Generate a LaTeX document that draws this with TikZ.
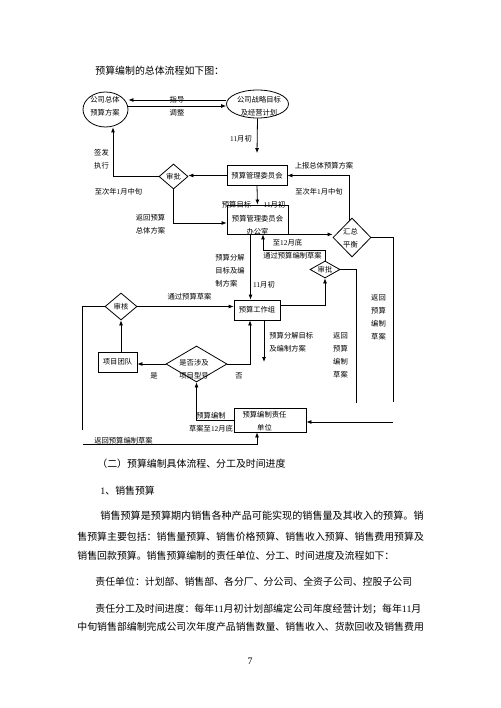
\documentclass[tikz,border=0pt]{standalone}
\usepackage{fontspec}
\setmainfont{Noto Sans CJK SC}
\newfontfamily\westfont{Liberation Serif}
\usepackage{tikz}
\usetikzlibrary{shapes.geometric, arrows.meta}

\tikzset{
  box/.style={draw, rectangle, inner sep=0pt},
  oval/.style={draw, ellipse, inner sep=0pt},
  gate/.style={draw, diamond, inner sep=0pt},
  lbl/.style={inner sep=0pt, align=center},
  para/.style={anchor=west, inner sep=0pt, font=\fontsize{9.9}{12}\selectfont}
}

\begin{document}
\begin{tikzpicture}[x=1pt, y=-1pt, line width=0.8pt, >={Latex[length=5pt,width=4pt]},
    font=\fontsize{7.3}{13}\selectfont]
  \fill[white] (0,0) rectangle (500,708);
  \useasboundingbox (0,0) rectangle (500,708);

  \def\bodyline#1#2#3{
    \node[para] (#1) at (#2) {#3};
  }

  \bodyline{title}{95,71}{预算编制的总体流程如下图：}

  % shapes
  \node[oval, minimum width=45, minimum height=35] (plan) at (105.5,109.5) {};
  \node[oval, minimum width=62, minimum height=28] (goal) at (257.5,104) {};
  \node[box, minimum width=60, minimum height=20] (pmc) at (257,175.5) {预算管理委员会};
  \node[box, minimum width=61, minimum height=29] (office) at (257.5,219.5) {};
  \node[box, minimum width=46, minimum height=20] (wg) at (257,310) {预算工作组};
  \node[box, minimum width=39, minimum height=20] (team) at (117.5,362) {项目团队};
  \node[box, minimum width=72, minimum height=24] (unit) at (270,420) {};
  \node[gate, minimum width=29, minimum height=25] (appr1) at (173.5,176.5) {审批};
  \node[gate, minimum width=38, minimum height=39] (bal) at (352,237.5) {};
  \node[gate, aspect=2, minimum width=30, minimum height=17] (appr2) at (325,269.5) {审批};
  \node[gate, minimum width=32, minimum height=27] (audit) at (121,306.5) {审核};
  \node[gate, minimum width=61, minimum height=36] (proj) at (196.5,364) {};

  \node[lbl] (planT) at (105,106.5) {公司总体\\预算方案};
  \node[lbl] (goalT) at (259,106.5) {公司战略目标\\及经营计划};
  \node[lbl] (officeT) at (257.5,225.5) {预算管理委员会\\办公室};
  \node[lbl] (balT) at (350.5,238) {汇总\\平衡};
  \node[lbl] (projT) at (194,369) {是否涉及\\项目型号};
  \node[lbl] (unitT) at (264.5,421.5) {预算编制责任\\单位};

  % connectors
  \draw[->] ([yshift=4pt]goal.west) -- ([yshift=4pt]goal.west -| plan.east);
  \draw[->] ([yshift=-2pt]goal.west -| plan.east) -- ([yshift=-2pt]goal.west);
  \draw[->] (goal.south) -- ([yshift=12pt]pmc.north);
  \draw[->] (pmc.west) -- (pmc.west -| appr1.east);
  \draw[->] (appr1.west) -| ([xshift=7.5pt]plan.south);
  \draw[->] (bal.100) |- (pmc.east);
  \draw[->] (pmc.south) -- (office.north);
  \draw[->] (appr1.south) |- ([yshift=-3.5pt]office.west);
  \draw[->] (office.south east) -- (office.south east -| bal.west);
  \coordinate (r1) at (393,402);
  \draw (bal.east) -| (r1);
  \coordinate (r2) at (393,422);
  \draw[->] (r2) -- (r2 -| unit.east);
  \draw[->] ([xshift=-7pt]office.south) -- ([xshift=-7pt]office.south |- wg.north);
  \coordinate (k1) at (263,250);
  \draw[->] (appr2.north) |- (k1) -- (k1 |- office.south);
  \draw[->] ([yshift=5pt]wg.east) -| (appr2.south);
  \coordinate (r3) at (356,403);
  \draw (appr2.east) -| (r3);
  \draw[->] (audit.east) -- (audit.east -| wg.west);
  \coordinate (l1) at (82,430);
  \draw (audit.west) -| (l1);
  \coordinate (l2) at (83,444);
  \draw[->] (l2) -| ([xshift=-13pt]unit.south);
  \draw[->] (team.north -| audit.south) -- (audit.south);
  \draw[->] (proj.west) -- (proj.west -| team.east);
  \draw[->] (proj.east) -| ([xshift=-7pt]wg.south);
  \coordinate (d1) at (264,362);
  \draw[->] ([xshift=7pt]wg.south) -- (d1);
  \draw[->] (unit.west) -| (proj.south);

  % labels
  \node[lbl] (guide) at (177,100) {指导};
  \node[lbl] (adjust) at (177,113) {调整};
  \node[lbl] (early1) at (241,139) {{\westfont 11}月初};
  \node[lbl] (issue) at (101.5,159) {签发\\执行};
  \node[lbl] (jan1) at (118.5,192) {至次年{\westfont 1}月中旬};
  \node[lbl] (report) at (324,166) {上报总体预算方案};
  \node[lbl] (jan2) at (319,192) {至次年{\westfont 1}月中旬};
  \node[lbl] (target) at (236.5,205) {预算目标};
  \node[lbl] (early2) at (274.5,204.5) {{\westfont 11}月初};
  \node[lbl] (back1) at (150.5,224.5) {返回预算\\总体方案};
  \node[lbl] (dec1) at (287.5,243) {至{\westfont 12}月底};
  \node[lbl] (pass1) at (292.5,256) {通过预算编制草案};
  \node[lbl, anchor=west, align=left] (split1) at (215,271) {预算分解\\目标及编\\制方案};
  \node[lbl] (early3) at (264,285) {{\westfont 11}月初};
  \node[lbl] (pass2) at (189.5,297) {通过预算草案};
  \node[lbl] (back2) at (378.5,317) {返回\\预算\\编制\\草案};
  \node[lbl] (back3) at (340.5,355.5) {返回\\预算\\编制\\草案};
  \node[lbl, anchor=west, align=left] (split2) at (269,342.5) {预算分解目标\\及编制方案};
  \node[lbl] (yes) at (154,376) {是};
  \node[lbl] (no) at (239,376) {否};
  \node[lbl] (draft) at (211,422) {预算编制\\草案至{\westfont 12}月底};
  \node[lbl] (back4) at (123.5,441) {返回预算编制草案};

  % text below
  \bodyline{sec}{97,464}{（二）预算编制具体流程、分工及时间进度}
  \bodyline{sub}{100,491}{{\westfont 1}、销售预算}
  \node[para, font=\fontsize{10.1}{12}\selectfont] (p1) at (100,516) {销售预算是预算期内销售各种产品可能实现的销售量及其收入的预算。销};
  \bodyline{p2}{77,536.5}{售预算主要包括：销售量预算、销售价格预算、销售收入预算、销售费用预算及}
  \bodyline{p3}{77,555.5}{销售回款预算。销售预算编制的责任单位、分工、时间进度及流程如下：}
  \bodyline{p4}{95,582}{责任单位：计划部、销售部、各分厂、分公司、全资子公司、控股子公司}
  \bodyline{p5}{95,609}{责任分工及时间进度：每年{\westfont 11}月初计划部编定公司年度经营计划；每年{\westfont 11}月}
  \bodyline{p6}{77,627}{中旬销售部编制完成公司次年度产品销售数量、销售收入、货款回收及销售费用}
  \node[para, anchor=center] (page) at (250,661) {\westfont 7};
\end{tikzpicture}
\end{document}
